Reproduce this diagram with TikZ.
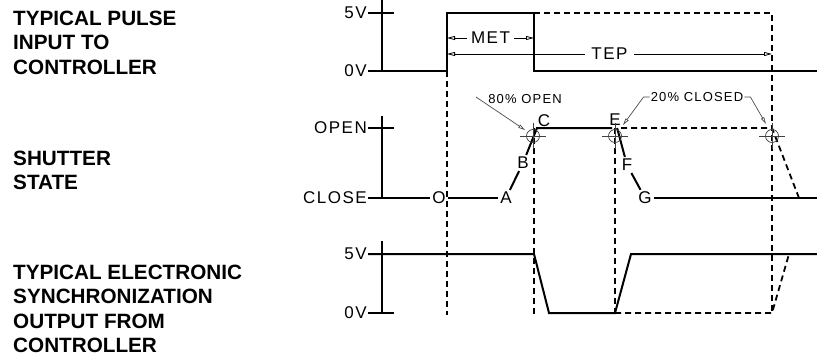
\documentclass[tikz,border=0pt]{standalone}
\usepackage{fontspec}
\setmainfont{Liberation Sans}
\newfontfamily\cadfont[LetterSpace=9]{Liberation Sans}
\usetikzlibrary{arrows.meta,calc}

\begin{document}
\begin{tikzpicture}[x=1pt,y=-1pt,
  sig/.style={line width=2pt},
  axis/.style={line width=2.6pt},
  dashsig/.style={line width=1.8pt, dash pattern=on 6pt off 4pt},
  dim/.style={line width=0.8pt, {Triangle[open,length=8pt,width=4pt]}-{Triangle[open,length=8pt,width=4pt]}},
  lead/.style={line width=0.7pt, gray!60!black, -{Triangle[open,length=7pt,width=3.5pt]}},
  hair/.style={line width=0.7pt, gray!50!black},
  lvl/.style={font=\cadfont\fontsize{17}{17}\selectfont, anchor=east, inner sep=1pt},
  pt/.style={font=\cadfont\fontsize{17}{17}\selectfont, inner sep=2pt},
  note/.style={font=\cadfont\fontsize{13}{13}\selectfont, inner sep=1pt},
  title/.style={font=\bfseries\fontsize{20.7}{24.3}\selectfont, align=left, anchor=north west, inner sep=0pt}]
\useasboundingbox (0,0) rectangle (817,356);
\node[title] (pulsettl) at (13,11) {TYPICAL PULSE\\INPUT TO\\CONTROLLER};
\node[title] (shutttl) at (13,151) {SHUTTER\\STATE};
\node[title] (syncttl) at (13,265) {TYPICAL ELECTRONIC\\SYNCHRONIZATION\\OUTPUT FROM\\CONTROLLER};

\draw[axis] (382,0) -- (382,71);
\draw[sig] (368,13) -- (394,13);
\node[lvl] (p5) at (368,13) {5V};
\node[lvl] (p0) at (368,71) {0V};
\draw[sig] (368,71) -- (447,71) -- (447,13) -- (534,13) -- (534,71) -- (817,71);
\draw[dashsig] (534,13) -- (772,13) -- (772,313);
\draw[dim] (447,38) -- node[pt, fill=white, inner xsep=4pt] (met) {MET} (534,38);
\draw[dim] (447,54) -- node[pt, fill=white, inner xsep=6pt] (tep) {TEP} (772,54);

\draw[dashsig] (447,71) -- (447,315);
\draw[dashsig] (534,128) -- (534,315);
\draw[dashsig] (615,128) -- (615,313);

\draw[axis] (382,116) -- (382,198);
\draw[sig] (368,128) -- (394,128);
\node[lvl] (sopen) at (368,128) {OPEN};
\node[lvl] (sclose) at (368,198) {CLOSE};
\node[pt] (O) at (439,198) {O};
\node[pt] (A) at (506,198) {A};
\node[pt] (B) at (523,163) {B};
\node[pt] (C) at (544,121) {C};
\node[pt] (E) at (615,120) {E};
\node[pt] (F) at (627,165) {F};
\node[pt] (G) at (645,198) {G};
\coordinate (topC) at (537,128);
\coordinate (topE) at (612,128);
\draw[sig] (368,198) -- (O);
\draw[sig] (O) -- (A);
\draw[sig] (A) -- (B);
\draw[sig] (B) -- (topC) -- (topE);
\draw[sig] (E) -- (F);
\draw[sig] (F) -- (G);
\draw[sig] (G) -- (817,198);
\draw[dashsig] (621,128) -- (772,128) -- (799,198);
\foreach \cx in {533,615,772} {
  \draw[hair] (\cx,136) circle (6.5);
  \draw[hair] (\cx-13,136) -- (\cx+13,136) (\cx,123) -- (\cx,149);
}
\node[note] (n80) at (525,99) {80\% OPEN};
\draw[lead] (476,97) -- (525,130);
\node[note] (n20) at (697,97) {20\% CLOSED};
\draw[lead] (n20.west) -- ++(-6,0) -- (623,125);
\draw[lead] (n20.east) -- ++(6,0) -- (766,124);

\draw[axis] (382,241) -- (382,313);
\draw[sig] (368,313) -- (394,313);
\node[lvl] (s5) at (368,254) {5V};
\node[lvl] (s0) at (368,313) {0V};
\draw[sig] (368,254) -- (534,254) -- (549,313) -- (615,313) -- (631,254) -- (817,254);
\draw[dashsig] (615,313) -- (772,313) -- (789,254);
\end{tikzpicture}
\end{document}
